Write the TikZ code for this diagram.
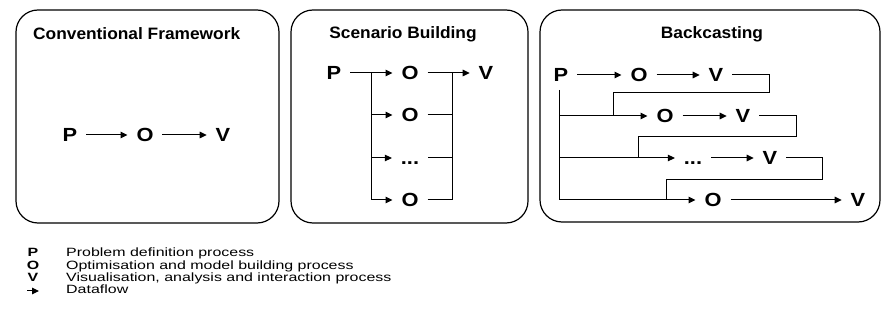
\documentclass[tikz,border=0pt]{standalone}
\usepackage{fontspec}
\setmainfont{Liberation Sans}
\newfontfamily\titlefont{Liberation Sans}[FakeStretch=1.05]
\newfontfamily\procfont{Liberation Sans}[FakeStretch=1.15]
\newfontfamily\keyfont{Liberation Sans}[FakeStretch=1.33]
\usetikzlibrary{arrows.meta}
\begin{document}
\begin{tikzpicture}[x=1pt,y=-1pt,
  panel/.style={draw, line width=1.2pt, rounded corners=22pt},
  paneltitle/.style={font=\titlefont\bfseries\fontsize{16.5}{19}\selectfont, inner sep=0pt},
  proc/.style={font=\procfont\bfseries\fontsize{19}{21}\selectfont, inner sep=0pt,
    text height=13.6pt, text depth=0pt, outer xsep=9pt},
  dots/.style={proc, minimum width=16pt},
  flow/.style={line width=1pt, -{Triangle[length=7pt,width=6.5pt]}},
  link/.style={line width=1pt},
  keyletter/.style={font=\keyfont\bfseries\fontsize{12}{14}\selectfont, inner sep=0pt, anchor=base},
  keytext/.style={font=\keyfont\fontsize{12}{14}\selectfont, inner sep=0pt, anchor=base west},
]
\useasboundingbox (0,0) rectangle (884,323);

% the three panels
\draw[panel] (16,10) rectangle (279,223);
\draw[panel] (291,10) rectangle (528,223);
\draw[panel] (540,10) rectangle (880,222);

\node[paneltitle, anchor=west] (t1) at (33,34) {Conventional Framework};
\node[paneltitle] (t2) at (403,34) {Scenario Building};
\node[paneltitle] (t3) at (712,34) {Backcasting};

% conventional framework: a single chain
\node[proc] (p1) at (70,135) {P};
\node[proc] (o1) at (145,135) {O};
\node[proc] (v1) at (223,135) {V};
\draw[flow] (p1) -- (o1);
\draw[flow] (o1) -- (v1);

% scenario building: one problem, several models, one visualisation
\node[proc] (p2) at (334,73) {P};
\node[proc] (o2a) at (410,73) {O};
\node[proc] (o2b) at (410,115) {O};
\node[dots] (o2c) at (410,158) {...};
\node[proc] (o2d) at (410,200) {O};
\node[proc] (v2) at (486,73) {V};
\coordinate (s2) at (371,73);
\coordinate (g2) at (452,73);
\draw[flow] (p2) -- (o2a);
\draw[link] (s2) -- (s2 |- o2d);
\draw[flow] (s2 |- o2b) -- (o2b);
\draw[flow] (s2 |- o2c) -- (o2c);
\draw[flow] (s2 |- o2d) -- (o2d);
\draw[flow] (o2a) -- (v2);
\draw[link] (g2) -- (g2 |- o2d);
\draw[link] (o2b) -- (g2 |- o2b);
\draw[link] (o2c) -- (g2 |- o2c);
\draw[link] (o2d) -- (g2 |- o2d);

% backcasting: each visualisation feeds the next model
\node[proc] (p3) at (561,75) {P};
\node[proc] (o3a) at (639,75) {O};
\node[proc] (v3a) at (716,75) {V};
\node[proc] (o3b) at (665,116) {O};
\node[proc] (v3b) at (743,116) {V};
\node[dots] (o3c) at (693,158) {...};
\node[proc] (v3c) at (770,158) {V};
\node[proc] (o3d) at (713,200) {O};
\node[proc] (v3d) at (858,200) {V};
\coordinate (s3) at (559,90);
\draw[flow] (p3) -- (o3a);
\draw[flow] (o3a) -- (v3a);
\draw[flow] (o3b) -- (v3b);
\draw[flow] (o3c) -- (v3c);
\draw[flow] (o3d) -- (v3d);
\draw[flow] (s3) |- (o3d.west);
\draw[flow] (s3 |- o3b) -- (o3b.west);
\draw[flow] (s3 |- o3c) -- (o3c.west);
\coordinate (k1) at (769,93);  \coordinate (m1) at (613,116);
\coordinate (k2) at (796,137); \coordinate (m2) at (638,158);
\coordinate (k3) at (822,180); \coordinate (m3) at (666,200);
\draw[link] (v3a.east) -| (k1) -| (m1);
\draw[link] (v3b.east) -| (k2) -| (m2);
\draw[link] (v3c.east) -| (k3) -| (m3);

% key
\node[keyletter] (kp) at (33,257) {P};
\node[keytext] (tp) at (66,257) {Problem definition process};
\node[keyletter] (ko) at (33,270) {O};
\node[keytext] (to) at (66,270) {Optimisation and model building process};
\node[keyletter] (kv) at (33,282) {V};
\node[keytext] (tv) at (66,282) {Visualisation, analysis and interaction process};
\coordinate (ka) at (27,291);
\coordinate (kb) at (39,291);
\draw[flow] (ka) -- (kb);
\node[keytext] (tf) at (66,294) {Dataflow};
\end{tikzpicture}
\end{document}
